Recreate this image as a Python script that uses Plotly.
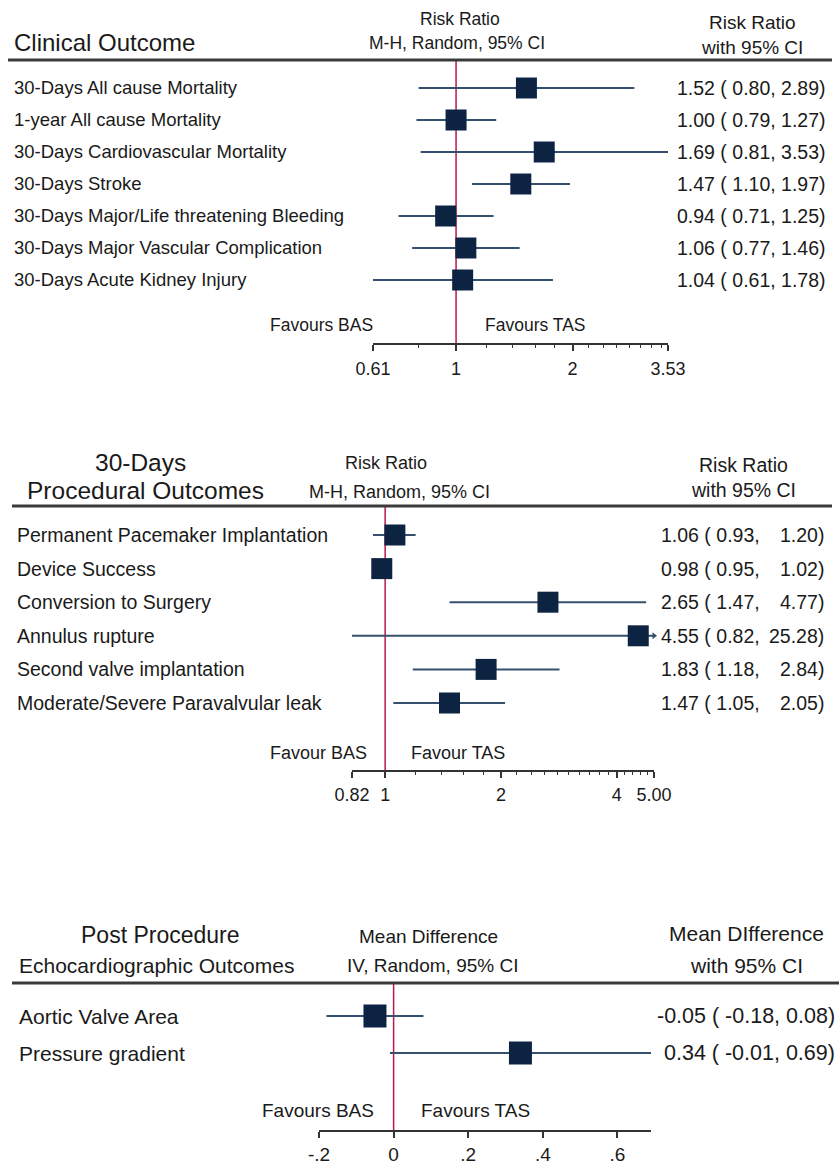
import math
import plotly.graph_objects as go

W, H = 839, 1167
FONT = "Liberation Sans, Arial, Helvetica, sans-serif"
TXT = "#1a1a1a"
SQ = "#0c2442"
CI = "#34506e"
REF = "#b8194f"
AX = "#333333"

# ---------------- data ----------------
clin_labels = ["30-Days All cause Mortality", "1-year All cause Mortality",
               "30-Days Cardiovascular Mortality", "30-Days Stroke",
               "30-Days Major/Life threatening Bleeding",
               "30-Days Major Vascular Complication", "30-Days Acute Kidney Injury"]
clin_rr = [1.52, 1.00, 1.69, 1.47, 0.94, 1.06, 1.04]
clin_lo = [0.80, 0.79, 0.81, 1.10, 0.71, 0.77, 0.61]
clin_hi = [2.89, 1.27, 3.53, 1.97, 1.25, 1.46, 1.78]
clin_ticks = [0.61, 1, 2, 3.53]
clin_ticktext = ["0.61", "1", "2", "3.53"]
clin_minor = [0.8, 1.2, 1.4, 1.6, 1.8, 2.2, 2.4, 2.6, 2.8, 3.0, 3.2, 3.4]

proc_labels = ["Permanent Pacemaker Implantation", "Device Success",
               "Conversion to Surgery", "Annulus rupture",
               "Second valve implantation", "Moderate/Severe Paravalvular leak"]
proc_rr = [1.06, 0.98, 2.65, 4.55, 1.83, 1.47]
proc_lo = [0.93, 0.95, 1.47, 0.82, 1.18, 1.05]
proc_hi = [1.20, 1.02, 4.77, 25.28, 2.84, 2.05]
proc_ticks = [0.82, 1, 2, 4, 5.0]
proc_ticktext = ["0.82", "1", "2", "4", "5.00"]
proc_minor = [1.2, 1.4, 1.6, 1.8, 2.2, 2.4, 2.6, 2.8, 3.0, 3.2, 3.4, 3.6, 3.8,
              4.2, 4.4, 4.6, 4.8]

echo_labels = ["Aortic Valve Area", "Pressure gradient"]
echo_md = [-0.05, 0.34]
echo_lo = [-0.18, -0.01]
echo_hi = [0.08, 0.69]
echo_ticks = [-0.2, 0, 0.2, 0.4, 0.6]
echo_ticktext = ["-.2", "0", ".2", ".4", ".6"]

fig = go.Figure()
annotations = []
shapes = []
layout_axes = {}


def yp(v):
    return 1 - v / H


def txt(x, y, s, size, xanchor="center", yanchor="middle", xref="paper", yref="paper"):
    annotations.append(dict(x=x if xref != "paper" else x / W,
                            y=y if yref != "paper" else yp(y),
                            xref=xref, yref=yref, text=s, showarrow=False,
                            xanchor=xanchor, yanchor=yanchor,
                            font=dict(family=FONT, size=size, color=TXT)))


def panel(idx, labels, est, lo, hi, ticks, ticktext, minor, cfg, values, ref):
    xa = "x" if idx == 1 else f"x{idx}"
    ya = "y" if idx == 1 else f"y{idx}"
    log = cfg["log"]
    xmin, xmax = min(ticks), cfg.get("xmax", max(ticks))
    n = len(labels)
    rows = list(range(n))
    xs, ys = [], []
    for i in rows:
        xs += [max(lo[i], xmin), min(hi[i], xmax), None]
        ys += [i, i, None]
    fig.add_trace(go.Scatter(x=xs, y=ys, mode="lines", line=dict(color=CI, width=2),
                             xaxis=xa, yaxis=ya, hoverinfo="skip", showlegend=False))
    fig.add_trace(go.Scatter(x=est, y=rows, mode="markers",
                             marker=dict(symbol="square", size=cfg["msize"], color=SQ,
                                         line=dict(width=0)),
                             xaxis=xa, yaxis=ya, showlegend=False, cliponaxis=False))
    clipped = [i for i in rows if hi[i] > xmax]
    if clipped:
        fig.add_trace(go.Scatter(x=[xmax for _ in clipped], y=clipped, mode="markers",
                                 marker=dict(symbol="triangle-right", size=6, color=CI),
                                 xaxis=xa, yaxis=ya, showlegend=False, cliponaxis=False))
    r0, step = cfg["row0"], cfg["step"]
    top, bot = cfg["ytop"], cfg["ybot"]
    key = "" if idx == 1 else str(idx)
    rng = [math.log10(xmin), math.log10(xmax)] if log else [xmin, xmax]
    layout_axes["xaxis" + key] = dict(
        domain=[cfg["x0"] / W, cfg["x1"] / W], type="log" if log else "linear",
        range=rng, anchor=ya, tickmode="array", tickvals=ticks, ticktext=ticktext,
        ticks="outside", ticklen=cfg["ticklen"], tickwidth=1.5, tickcolor=AX,
        showline=True, linecolor=AX, linewidth=1.5, showgrid=False, zeroline=False,
        tickfont=dict(family=FONT, size=cfg["tickfs"], color=TXT),
        ticklabelstandoff=cfg["standoff"], fixedrange=True, automargin=False,
        minor=dict(tickmode="array", tickvals=minor, ticks="outside", ticklen=3,
                   tickwidth=1, tickcolor=AX, showgrid=False) if minor else None)
    layout_axes["yaxis" + key] = dict(
        domain=[yp(bot), yp(top)], range=[(bot - r0) / step, (top - r0) / step],
        visible=False, anchor=xa, fixedrange=True, automargin=False)
    shapes.append(dict(type="line", xref=xa, x0=ref, x1=ref, yref=ya + " domain",
                       y0=0, y1=1, line=dict(color=REF, width=1.5), layer="below"))
    shapes.append(dict(type="line", xref="paper", yref="paper",
                       x0=cfg["rule_x0"] / W, x1=cfg["rule_x1"] / W,
                       y0=yp(top), y1=yp(top), line=dict(color="#3a3a3a", width=3)))
    for i in rows:
        txt(cfg["label_x"], i, labels[i], cfg["labfs"], xanchor="left", yref=ya)
    for i in rows:
        vals = values(i)
        if isinstance(vals, tuple):
            txt(cfg["val_left"], i, vals[0], cfg["valfs"], xanchor="left", yref=ya)
            txt(cfg["val_right"], i, vals[1], cfg["valfs"], xanchor="right", yref=ya)
        else:
            txt(cfg["val_right"], i, vals, cfg["valfs"], xanchor="right", yref=ya)


cfg1 = dict(log=True, x0=373, x1=668, ytop=60, ybot=343, row0=88, step=32, msize=21,
            ticklen=6, tickfs=18, standoff=3, label_x=12, labfs=18.5, valfs=19.5,
            val_right=828, rule_x0=8, rule_x1=832)
panel(1, clin_labels, clin_rr, clin_lo, clin_hi, clin_ticks, clin_ticktext, clin_minor,
      cfg1, lambda i: f"{clin_rr[i]:.2f} ( {clin_lo[i]:.2f}, {clin_hi[i]:.2f})", 1)
txt(12, 43, "Clinical Outcome", 24, xanchor="left")
txt(460, 19, "Risk Ratio", 17.5)
txt(457, 43, "M-H, Random, 95% CI", 17.5)
txt(752, 22, "Risk Ratio", 19)
txt(752, 47, "with 95% CI", 19)
txt(375, 325, "Favours BAS", 17.5, xanchor="right")
txt(483, 325, "Favours TAS", 17.5, xanchor="left")

cfg2 = dict(log=True, x0=352, x1=654, ytop=506, ybot=770, row0=535, step=33.6, msize=21,
            ticklen=6, tickfs=18, standoff=2, label_x=15, labfs=19.5, valfs=19.5,
            val_left=659, val_right=826, rule_x0=12, rule_x1=832)
panel(2, proc_labels, proc_rr, proc_lo, proc_hi, proc_ticks, proc_ticktext, proc_minor,
      cfg2, lambda i: (f"{proc_rr[i]:.2f} ( {proc_lo[i]:.2f},", f"{proc_hi[i]:.2f})"), 1)
txt(140, 462, "30-Days", 24.5)
txt(145, 490, "Procedural Outcomes", 24.5)
txt(386, 463, "Risk Ratio", 18)
txt(399, 492, "M-H, Random, 95% CI", 18)
txt(743, 465, "Risk Ratio", 19.5)
txt(743, 490, "with 95% CI", 19.5)
txt(369, 753, "Favour BAS", 18, xanchor="right")
txt(409, 753, "Favour TAS", 18, xanchor="left")

cfg3 = dict(log=False, x0=319, x1=651, ytop=983, ybot=1130, row0=1016, step=37, msize=23,
            xmax=0.69, ticklen=6, tickfs=19, standoff=0, label_x=17, labfs=21, valfs=21.5,
            val_right=837, rule_x0=12, rule_x1=839)
panel(3, echo_labels, echo_md, echo_lo, echo_hi, echo_ticks, echo_ticktext, None,
      cfg3, lambda i: f"{echo_md[i]:.2f} ( {echo_lo[i]:.2f}, {echo_hi[i]:.2f})", 0)
txt(160, 935, "Post Procedure", 23)
txt(156, 965, "Echocardiographic Outcomes", 21)
txt(428, 936, "Mean Difference", 19)
txt(432, 965, "IV, Random, 95% CI", 19)
txt(746, 933, "Mean DIfference", 21)
txt(746, 965, "with 95% CI", 21)
txt(376, 1110, "Favours BAS", 19, xanchor="right")
txt(419, 1110, "Favours TAS", 19, xanchor="left")

fig.update_layout(width=W, height=H, autosize=False,
                  margin=dict(l=0, r=0, t=0, b=0, pad=0, autoexpand=False),
                  paper_bgcolor="white", plot_bgcolor="white", showlegend=False,
                  annotations=annotations, shapes=shapes,
                  font=dict(family=FONT, color=TXT), **layout_axes)
fig.write_html("out.html", config={"responsive": False, "displayModeBar": False},
               post_script="document.body.style.margin='0';"
                           "document.body.style.overflow='hidden';"
                           "document.documentElement.style.overflow='hidden';")
